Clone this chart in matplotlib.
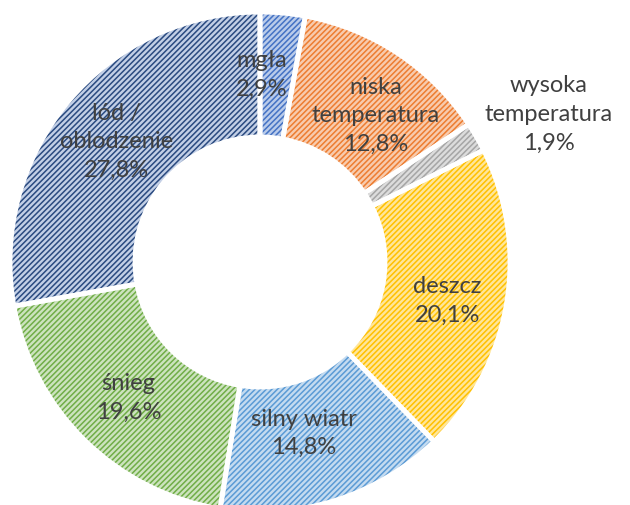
import matplotlib
matplotlib.use("Agg")
import matplotlib.pyplot as plt
import numpy as np

categories = ["mgła", "niska\ntemperatura", "wysoka\ntemperatura", "deszcz",
              "silny wiatr", "śnieg", "lód /\noblodzenie"]
values = [2.9, 12.8, 1.9, 20.1, 14.8, 19.6, 27.8]
pct_labels = ["2,9%", "12,8%", "1,9%", "20,1%", "14,8%", "19,6%", "27,8%"]

fill_colors = ["#B9CBEA", "#F8CBAD", "#DCDCDC", "#FFE699", "#C4DBF0", "#CCE3BE", "#C2CFE6"]
hatch_colors = ["#4472C4", "#ED7D31", "#A5A5A5", "#FFC000", "#5B9BD5", "#70AD47", "#2A4A80"]

# label placement (radius factor and small nudges, data units)
label_radius = [0.75, 0.75, 1.3, 0.75, 0.75, 0.75, 0.75]
label_nudge = [(-0.06, 0.0), (0.05, -0.04), (0.03, -0.06), (0.01, -0.03),
               (-0.05, 0.03), (0.0, -0.01), (0.0, 0.0)]

plt.rcParams['hatch.linewidth'] = 1.1
plt.rcParams['font.family'] = ['Lato', 'DejaVu Sans']

fig = plt.figure(figsize=(6.3, 5.05), dpi=100)
ax = fig.add_axes([10/630, -7/505, 500/630, 500/505])

kw = dict(startangle=90, counterclock=False, radius=1.0)
w1, _ = ax.pie(values, colors=fill_colors, wedgeprops=dict(width=0.5, linewidth=0), **kw)
w2, _ = ax.pie(values, colors=['none']*len(values),
               wedgeprops=dict(width=0.5, linewidth=0), **kw)
for w, hc in zip(w2, hatch_colors):
    w.set_hatch('//////')
    w.set_edgecolor(hc)
    w.set_facecolor('none')
w3, _ = ax.pie(values, colors=['none']*len(values),
               wedgeprops=dict(width=0.5, linewidth=3.5, edgecolor='white'), **kw)

ax.set_xlim(-1, 1)
ax.set_ylim(-1, 1)
ax.set_aspect('equal')
ax.axis('off')

total = sum(values)
cum = 0
for i, v in enumerate(values):
    mid = 90 - (cum + v / 2) / total * 360
    cum += v
    r = label_radius[i]
    x = r * np.cos(np.radians(mid)) + label_nudge[i][0]
    y = r * np.sin(np.radians(mid)) + label_nudge[i][1]
    ax.text(x, y, categories[i] + "\n" + pct_labels[i], ha='center', va='center',
            fontsize=17, color='#404040', linespacing=1.45)

fig.savefig("out.png", dpi=100)
